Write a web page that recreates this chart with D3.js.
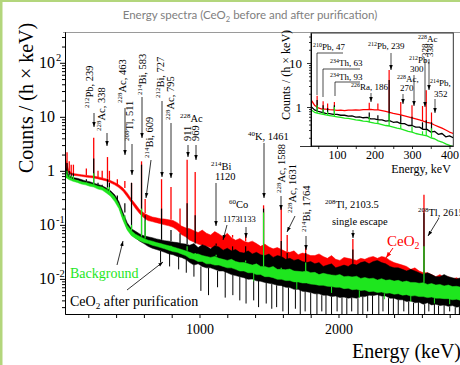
<!DOCTYPE html>
<html>
<head>
<meta charset="utf-8">
<script src="https://cdn.jsdelivr.net/npm/d3@7"></script>
<style>
  html, body { margin: 0; padding: 0; background: #fff; }
  svg { display: block; }
</style>
</head>
<body>
<div id="chart"></div>
<script>
// ---- main spectrum (keV bins, counts / (h x keV)), lower/upper edge of each noisy band ----
const energy = [
  30, 60, 90, 120, 150, 180, 210, 240, 270, 300,
  330, 360, 390, 420, 450, 480, 510, 540, 570, 600,
  630, 660, 690, 720, 750, 780, 810, 840, 870, 900,
  930, 960, 990, 1020, 1050, 1080, 1110, 1140, 1170, 1200,
  1230, 1260, 1290, 1320, 1350, 1380, 1410, 1440, 1470, 1500,
  1530, 1560, 1590, 1620, 1650, 1680, 1710, 1740, 1770, 1800,
  1830, 1860, 1890, 1920, 1950, 1980, 2010, 2040, 2070, 2100,
  2130, 2160, 2190, 2220, 2250, 2280, 2310, 2340, 2370, 2400,
  2430, 2460, 2490, 2520, 2550, 2580, 2610, 2640, 2670, 2700,
  2730, 2760, 2790, 2820, 2850, 2880
];
const beforeHi = [
  1.9, 1.0, 0.89, 0.87, 0.85, 0.83, 0.81, 0.8, 0.77, 0.74,
  0.71, 0.66, 0.61, 0.55, 0.48, 0.39, 0.3, 0.24, 0.19, 0.165,
  0.15, 0.14, 0.135, 0.13, 0.128, 0.124, 0.12, 0.11, 0.095, 0.088,
  0.085, 0.078, 0.072, 0.08, 0.07, 0.065, 0.075, 0.068, 0.06, 0.07,
  0.058, 0.052, 0.056, 0.05, 0.047, 0.05, 0.045, 0.04, 0.044, 0.039,
  0.036, 0.038, 0.035, 0.032, 0.031, 0.033, 0.028, 0.03, 0.029, 0.027,
  0.027, 0.029, 0.026, 0.024, 0.027, 0.023, 0.022, 0.025, 0.024, 0.023,
  0.022, 0.024, 0.023, 0.025, 0.026, 0.024, 0.026, 0.025, 0.022, 0.02,
  0.019, 0.018, 0.017, 0.015, 0.016, 0.014, 0.013, 0.013, 0.012, 0.011,
  0.012, 0.0105, 0.011, 0.01, 0.0105, 0.0095
];
const beforeLo = [
  1.2, 0.9, 0.83, 0.81, 0.79, 0.77, 0.75, 0.74, 0.71, 0.68,
  0.65, 0.6, 0.55, 0.49, 0.42, 0.33, 0.26, 0.2, 0.16, 0.135,
  0.12, 0.115, 0.11, 0.105, 0.1, 0.096, 0.09, 0.08, 0.066, 0.06,
  0.052, 0.048, 0.044, 0.042, 0.04, 0.038, 0.036, 0.034, 0.034, 0.032,
  0.03, 0.029, 0.028, 0.027, 0.026, 0.025, 0.024, 0.023, 0.023, 0.022,
  0.02, 0.02, 0.019, 0.018, 0.017, 0.017, 0.016, 0.016, 0.015, 0.015,
  0.014, 0.014, 0.013, 0.013, 0.012, 0.012, 0.012, 0.012, 0.012, 0.012,
  0.012, 0.013, 0.013, 0.014, 0.014, 0.014, 0.014, 0.013, 0.012, 0.011,
  0.01, 0.0095, 0.009, 0.0085, 0.0085, 0.008, 0.0075, 0.0072, 0.007, 0.0068,
  0.0065, 0.0063, 0.0062, 0.006, 0.006, 0.0058
];
const afterHi = [
  1.3, 0.81, 0.75, 0.73, 0.69, 0.65, 0.63, 0.59, 0.56, 0.53,
  0.48, 0.43, 0.36, 0.27, 0.17, 0.11, 0.085, 0.076, 0.068, 0.063,
  0.06, 0.058, 0.055, 0.053, 0.051, 0.05, 0.048, 0.047, 0.045, 0.044,
  0.042, 0.045, 0.038, 0.043, 0.04, 0.036, 0.041, 0.039, 0.034, 0.037,
  0.033, 0.035, 0.031, 0.03, 0.033, 0.029, 0.031, 0.028, 0.027, 0.029,
  0.025, 0.027, 0.026, 0.023, 0.024, 0.022, 0.023, 0.021, 0.02, 0.021,
  0.019, 0.02, 0.017, 0.018, 0.019, 0.016, 0.017, 0.018, 0.017, 0.019,
  0.018, 0.02, 0.021, 0.019, 0.021, 0.022, 0.02, 0.019, 0.017, 0.016,
  0.016, 0.015, 0.014, 0.015, 0.014, 0.013, 0.012, 0.013, 0.012, 0.011,
  0.011, 0.012, 0.011, 0.0105, 0.01, 0.0105
];
const afterLo = [
  0.8, 0.75, 0.69, 0.67, 0.63, 0.59, 0.57, 0.53, 0.5, 0.47,
  0.42, 0.37, 0.3, 0.22, 0.13, 0.085, 0.066, 0.057, 0.05, 0.045,
  0.04, 0.037, 0.035, 0.033, 0.031, 0.029, 0.028, 0.026, 0.025, 0.023,
  0.02, 0.018, 0.019, 0.017, 0.016, 0.016, 0.015, 0.014, 0.014, 0.013,
  0.012, 0.0115, 0.011, 0.0105, 0.0098, 0.0099, 0.0092, 0.009, 0.0086, 0.0083,
  0.008, 0.0076, 0.0075, 0.007, 0.0069, 0.0064, 0.0064, 0.0059, 0.0058, 0.0056,
  0.0053, 0.0053, 0.005, 0.005, 0.0047, 0.0048, 0.0045, 0.0046, 0.0044, 0.0045,
  0.0044, 0.0047, 0.0047, 0.005, 0.0049, 0.0051, 0.0048, 0.0048, 0.0044, 0.0044,
  0.0041, 0.0041, 0.0038, 0.0039, 0.0036, 0.0037, 0.0034, 0.0036, 0.0033, 0.0034,
  0.0032, 0.0033, 0.0031, 0.0032, 0.003, 0.0031
];
const bgHi = [
  0.95, 0.75, 0.7, 0.67, 0.63, 0.61, 0.58, 0.56, 0.52, 0.5,
  0.45, 0.4, 0.33, 0.24, 0.15, 0.098, 0.078, 0.067, 0.061, 0.056,
  0.052, 0.05, 0.047, 0.045, 0.043, 0.041, 0.039, 0.037, 0.035, 0.033,
  0.031, 0.029, 0.029, 0.027, 0.026, 0.025, 0.026, 0.024, 0.023, 0.022,
  0.023, 0.021, 0.02, 0.02, 0.019, 0.018, 0.019, 0.017, 0.017, 0.016,
  0.017, 0.015, 0.015, 0.0148, 0.0152, 0.014, 0.0138, 0.0135, 0.014, 0.013,
  0.0132, 0.012, 0.0127, 0.0122, 0.0118, 0.0116, 0.012, 0.011, 0.0112, 0.0108,
  0.0112, 0.0102, 0.0106, 0.0101, 0.0103, 0.0095, 0.0101, 0.0094, 0.0096, 0.0091,
  0.0094, 0.0088, 0.0091, 0.0086, 0.0086, 0.0083, 0.0085, 0.0079, 0.0082, 0.0077,
  0.0079, 0.0074, 0.0077, 0.0072, 0.0073, 0.007
];
const bgLo = [
  0.78, 0.69, 0.64, 0.61, 0.57, 0.55, 0.52, 0.5, 0.46, 0.44,
  0.39, 0.34, 0.27, 0.2, 0.12, 0.08, 0.063, 0.056, 0.051, 0.047,
  0.045, 0.042, 0.04, 0.038, 0.036, 0.034, 0.032, 0.031, 0.029, 0.027,
  0.024, 0.023, 0.021, 0.021, 0.019, 0.019, 0.018, 0.018, 0.017, 0.016,
  0.016, 0.015, 0.014, 0.014, 0.013, 0.013, 0.012, 0.012, 0.011, 0.011,
  0.0105, 0.0098, 0.0098, 0.0093, 0.0093, 0.0088, 0.0088, 0.0084, 0.0084, 0.008,
  0.0079, 0.0076, 0.0076, 0.0073, 0.0072, 0.007, 0.007, 0.0066, 0.0067, 0.0063,
  0.0064, 0.0061, 0.0062, 0.0058, 0.0059, 0.0056, 0.0057, 0.0054, 0.0055, 0.0052,
  0.0053, 0.005, 0.0051, 0.0048, 0.0049, 0.0047, 0.0047, 0.0045, 0.0046, 0.0044,
  0.0044, 0.0043, 0.0043, 0.0041, 0.0042, 0.004
];

// gamma lines (keV) and peak tops for each spectrum
const peakEnergy = [47, 63, 77, 93, 186, 239, 270, 300, 338, 352, 409, 463, 511, 583, 609, 727, 795, 860, 911, 969, 1120, 1238, 1332, 1461, 1588, 1631, 1764, 2103.5, 2615];
const peakBefore = [2.2, 1.5, 1.3, 1.3, 1.1, 4.1, 1.0, 1.0, 1.8, 1.0, 0.7, 0.65, 0.6, 1.5, 0.3, 0.7, 0.5, 0.2, 1.6, 0.95, 0.075, 0.065, 0.07, 0.23, 0.21, 0.065, 0.038, 0.055, 0.36];
const peakAfter = [1.4, 1.0, 0.9, 0.9, 0.7, 1.7, 0.6, 0.55, 0.7, 0.6, 0.35, 0.25, 0.6, 1.3, 0.15, 0.2, 0.08, 0.07, 0.25, 0.15, 0.045, 0.04, 0.04, 0.2, 0.05, 0.03, 0.03, 0.035, 0.17];
const peakBg = [1.0, 0.85, 0.8, 0.8, 0.62, 0.9, 0.5, 0.48, 0.5, 0.5, 0.25, 0.12, 0.1, 0.2, 0.12, 0.045, 0.035, 0.03, 0.04, 0.03, 0.028, 0.023, 0.022, 0.17, 0.016, 0.014, 0.02, 0.011, 0.04];

// downward noise dips (keV, counts) of the purified sample and of the background
const afterDipEnergy = [720, 785, 850, 905, 960, 1010, 1065, 1130, 1185, 1240, 1290, 1335, 1390, 1425, 1480, 1520, 1555, 1600, 1640, 1690, 1725, 1760, 1800, 1845, 1880, 1910, 1950, 1990, 2025, 2060, 2095, 2140, 2175, 2210, 2245, 2290, 2320, 2360, 2395, 2430, 2470, 2505, 2540, 2575, 2620, 2650, 2690, 2720, 2760, 2800, 2840, 2870];
const afterDipValue = [0.02, 0.017, 0.015, 0.013, 0.011, 0.006, 0.005, 0.007, 0.0045, 0.005, 0.004, 0.0035, 0.004, 0.003, 0.0035, 0.0028, 0.003, 0.0025, 0.002, 0.0028, 0.002, 0.0025, 0.002, 0.002, 0.0025, 0.002, 0.002, 0.0025, 0.002, 0.002, 0.0025, 0.002, 0.002, 0.0025, 0.002, 0.002, 0.0025, 0.002, 0.002, 0.002, 0.0025, 0.002, 0.002, 0.002, 0.002, 0.0025, 0.002, 0.002, 0.002, 0.0025, 0.002, 0.002];
const bgDipEnergy = [1390, 1700, 1950, 2150, 2330, 2520, 2690, 2800];
const bgDipValue = [0.009, 0.0065, 0.0055, 0.0045, 0.0042, 0.0038, 0.0035, 0.0034];

// ---- inset: low-energy part ----
const insetEnergy = [30, 40, 50, 60, 70, 80, 90, 100, 110, 120, 130, 140, 150, 160, 170, 180, 190, 200, 210, 220, 230, 240, 250, 260, 270, 280, 290, 300, 310, 320, 330, 340, 350, 360, 370, 380, 390, 400, 410];
const insetBefore = [1.5, 1.1, 0.95, 0.9, 0.9, 0.87, 0.86, 0.84, 0.85, 0.83, 0.85, 0.85, 0.86, 0.85, 0.87, 0.87, 0.88, 0.86, 0.86, 0.83, 0.8, 0.76, 0.72, 0.69, 0.66, 0.63, 0.6, 0.57, 0.54, 0.51, 0.48, 0.45, 0.43, 0.39, 0.36, 0.33, 0.3, 0.27, 0.25];
const insetAfter = [1.05, 0.86, 0.8, 0.76, 0.72, 0.71, 0.68, 0.68, 0.65, 0.65, 0.62, 0.63, 0.59, 0.6, 0.57, 0.58, 0.54, 0.54, 0.51, 0.51, 0.48, 0.49, 0.45, 0.46, 0.42, 0.42, 0.38, 0.38, 0.35, 0.35, 0.31, 0.31, 0.27, 0.28, 0.24, 0.25, 0.21, 0.22, 0.2];
const insetBg = [0.88, 0.76, 0.72, 0.69, 0.66, 0.64, 0.62, 0.6, 0.58, 0.56, 0.55, 0.53, 0.51, 0.5, 0.48, 0.47, 0.45, 0.43, 0.42, 0.4, 0.38, 0.37, 0.35, 0.33, 0.32, 0.3, 0.28, 0.27, 0.25, 0.24, 0.23, 0.22, 0.2, 0.19, 0.17, 0.16, 0.145, 0.135, 0.125];
const insetPeakEnergy = [47, 63, 75, 93, 186, 209, 239, 270, 300, 328, 338, 352];
const insetPeakBefore = [1.8, 1.35, 1.2, 1.3, 1.25, 1.2, 6.9, 1.3, 1.1, 1.05, 2.4, 0.75];
const insetPeakAfter = [1.45, 1.1, 0.95, 1.1, 0.75, 0.65, 4.1, 0.65, 0.6, 0.45, 0.5, 0.45];
const insetPeakBg = [1.1, 0.9, 0.78, 1.0, 0.6, 0.5, 0.7, 0.4, 0.36, 0.28, 0.3, 0.33];

const yTickValues = [100, 10, 1, 0.1, 0.01];
const yTickBase = ["10", "10", "1", "10", "10"];
const yTickSup = ["2", "", "", "-1", "-2"];

const W = 460, H = 365;
const serif = "'Liberation Serif','Times New Roman',serif";
const RED = "#ff0000", BLACK = "#000000", GREEN = "#1ee61e";

const svg = d3.select("#chart").append("svg").attr("width", W).attr("height", H);
const defs = svg.append("defs");

defs.append("marker")
  .attr("id", "ah").attr("viewBox", "0 0 10 10").attr("refX", 10).attr("refY", 5)
  .attr("markerUnits", "userSpaceOnUse").attr("markerWidth", 5).attr("markerHeight", 5)
  .attr("orient", "auto")
  .append("path").attr("d", "M0,1.5L10,5L0,8.5Z").attr("fill", "#000");
defs.append("marker")
  .attr("id", "ahRed").attr("viewBox", "0 0 10 10").attr("refX", 10).attr("refY", 5)
  .attr("markerUnits", "userSpaceOnUse").attr("markerWidth", 6).attr("markerHeight", 6)
  .attr("orient", "auto")
  .append("path").attr("d", "M0,1.5L10,5L0,8.5Z").attr("fill", RED);

// text with ^{sup} and _{sub} pieces
function rich(g, spec, family, baseSize) {
  const size = spec.s || baseSize;
  const t = g.append("text").attr("x", spec.x).attr("y", spec.y)
    .attr("font-family", family).attr("font-size", size).attr("fill", spec.c || "#000");
  if (spec.anchor) t.attr("text-anchor", spec.anchor);
  if (spec.r) t.attr("transform", `rotate(-90,${spec.x},${spec.y})`);
  let shift = 0;
  spec.t.split(/(\^\{[^}]*\}|_\{[^}]*\})/).filter(s => s.length).forEach(seg => {
    let off = 0, fs = size, txt = seg;
    if (seg[0] === "^") { off = -0.38 * size; fs = 0.66 * size; txt = seg.slice(2, -1); }
    else if (seg[0] === "_") { off = 0.22 * size; fs = 0.66 * size; txt = seg.slice(2, -1); }
    t.append("tspan").attr("dy", off - shift).attr("font-size", fs).text(txt);
    shift = off;
  });
  return t;
}

function band(g, xs, ys, lo, hi, color) {
  const rows = energy.map((e, i) => ({ e, lo: lo[i], hi: hi[i] }));
  g.append("path").datum(rows)
    .attr("d", d3.area().x(d => xs(d.e)).y0(d => ys(d.lo)).y1(d => ys(d.hi)))
    .attr("fill", color).attr("stroke", color).attr("stroke-width", 0.5)
    .attr("stroke-linejoin", "round");
}

// vertical strokes from a band edge (nearest bin) to given values: peaks up, dips down
function spikes(g, xs, ys, grid, base, pe, pv, color, w) {
  pe.forEach((e, i) => {
    let k = 0;
    grid.forEach((ge, j) => { if (Math.abs(ge - e) < Math.abs(grid[k] - e)) k = j; });
    g.append("line").attr("x1", xs(e)).attr("x2", xs(e))
      .attr("y1", ys(pv[i])).attr("y2", ys(base[k]))
      .attr("stroke", color).attr("stroke-width", w);
  });
}

// page frame
svg.append("rect").attr("x", 0).attr("y", 0).attr("width", 2.5).attr("height", H).attr("fill", "#b3d67c");
svg.append("rect").attr("x", 0).attr("y", 0).attr("width", W).attr("height", 2).attr("fill", "#b3d67c");

rich(svg, { t: "Energy spectra (CeO_{2} before and after purification)", x: 250, y: 19, anchor: "middle", c: "#808080" },
  "Lato, 'DejaVu Sans', sans-serif", 11.5);

// ---- main plot ----
const x = d3.scaleLinear().domain([32.4, 2880]).range([65, 460.8]);
const y = d3.scaleLog().domain([Math.pow(10, -2.65), Math.pow(10, 2.57)]).range([314, 32]);

defs.append("clipPath").attr("id", "clipMain")
  .append("rect").attr("x", 65).attr("y", 32).attr("width", 400).attr("height", 282);

svg.append("line").attr("x1", 63).attr("x2", W).attr("y1", 32.5).attr("y2", 32.5)
  .attr("stroke", "#9a9a9a").attr("stroke-width", 1);

const plot = svg.append("g").attr("clip-path", "url(#clipMain)");
band(plot, x, y, beforeLo, beforeHi, RED);
spikes(plot, x, y, energy, beforeHi, peakEnergy, peakBefore.map((v, i) => v), RED, 1.3);
band(plot, x, y, afterLo, afterHi, BLACK);
spikes(plot, x, y, energy, afterLo, afterDipEnergy, afterDipValue, BLACK, 1);
spikes(plot, x, y, energy, afterHi, peakEnergy, peakAfter, BLACK, 1.2);
band(plot, x, y, bgLo, bgHi, GREEN);
spikes(plot, x, y, energy, bgLo, bgDipEnergy, bgDipValue, GREEN, 1);
spikes(plot, x, y, energy, bgHi, peakEnergy, peakBg, GREEN, 1.2);

// axes
const minorY = [];
[-3, -2, -1, 0, 1, 2].forEach(p => { for (let m = 2; m <= 9; m++) minorY.push(m * Math.pow(10, p)); });
const yDom = y.domain();
const styleAxis = g => { g.selectAll("path,line").attr("stroke", "#000").attr("stroke-width", 1); };

svg.append("g").attr("transform", "translate(65,0)")
  .call(d3.axisLeft(y).tickValues(minorY.filter(v => v > yDom[0] && v < yDom[1])).tickSize(3).tickSizeOuter(0).tickFormat(""))
  .call(styleAxis);
svg.append("g").attr("transform", "translate(65,0)")
  .call(d3.axisLeft(y).tickValues(yTickValues).tickSize(5).tickSizeOuter(0).tickFormat(""))
  .call(styleAxis);

yTickValues.forEach((v, i) => {
  svg.append("text").attr("x", 55).attr("y", y(v) + 5.5).attr("text-anchor", "end")
    .attr("font-family", serif).attr("font-size", 16).text(yTickBase[i]);
  if (yTickSup[i]) {
    svg.append("text").attr("x", 56).attr("y", y(v) - 2)
      .attr("font-family", serif).attr("font-size", 10.5).text(yTickSup[i]);
  }
});

const xAxis = svg.append("g").attr("transform", "translate(0,314)")
  .call(d3.axisBottom(x).tickValues(d3.range(200, 2801, 200)).tickSize(4).tickSizeOuter(0).tickPadding(6)
    .tickFormat(d => (d % 1000 === 0 ? d : "")))
  .call(styleAxis);
xAxis.selectAll("text").attr("font-family", serif).attr("font-size", 14).attr("fill", "#000");

svg.append("text").attr("transform", "translate(33,173) rotate(-90)")
  .attr("font-family", serif).attr("font-size", 20).text("Counts / (h \u00d7 keV)");
svg.append("text").attr("x", 352).attr("y", 358)
  .attr("font-family", serif).attr("font-size", 20).text("Energy (keV)");

// annotations of the main plot
const mainLabels = [
  { t: "^{212}Pb, 239", x: 93, y: 108, r: true },
  { t: "^{228}Ac, 338", x: 105, y: 131, r: true },
  { t: "^{228}Ac, 463", x: 126, y: 103, r: true },
  { t: "^{208}Tl, 511", x: 133, y: 141, r: true },
  { t: "^{214}Bi, 583", x: 146, y: 95, r: true },
  { t: "^{214}Bi, 609", x: 153, y: 158, r: true },
  { t: "^{212}Bi, 727", x: 164, y: 98, r: true },
  { t: "^{228}Ac, 795", x: 174, y: 120, r: true },
  { t: "^{228}Ac", x: 180, y: 122 },
  { t: "911", x: 191, y: 141, r: true },
  { t: "969", x: 199, y: 141, r: true },
  { t: "^{214}Bi", x: 211, y: 170 },
  { t: "1120", x: 215, y: 180 },
  { t: "^{60}Co", x: 229, y: 208 },
  { t: "1173", x: 223, y: 222, s: 8.5 },
  { t: "1133", x: 239, y: 222, s: 8.5 },
  { t: "^{40}K, 1461", x: 248, y: 140 },
  { t: "^{228}Ac, 1588", x: 285, y: 193, r: true },
  { t: "^{228}Ac, 1631", x: 296, y: 213, r: true },
  { t: "^{214}Bi, 1764", x: 310, y: 232, r: true },
  { t: "^{208}Tl, 2103.5", x: 325, y: 208 },
  { t: "single escape", x: 332, y: 225 },
  { t: "CeO_{2}", x: 387, y: 246, s: 15, c: RED },
  { t: "^{208}Tl, 2615", x: 418, y: 216 },
  { t: "Background", x: 70, y: 278, s: 14, c: GREEN },
  { t: "CeO_{2} after purification", x: 70, y: 306, s: 14 }
];
mainLabels.forEach(l => rich(svg, l, serif, 10.5));

const mainArrows = [
  [94, 113, 94, 127], [107, 133, 107, 146], [125, 108, 125, 155], [132, 144, 132, 175],
  [142, 97, 142, 138], [151, 160, 146, 198], [162, 101, 162, 177], [171, 123, 171, 178],
  [188, 145, 188, 157], [196, 145, 196, 160], [216, 183, 216, 226], [227, 225, 223, 240],
  [246, 227, 246, 238], [264, 143, 264, 198], [281, 196, 281, 210], [295, 216, 287, 232],
  [306, 236, 306, 250], [353, 230, 353, 238], [439, 218, 428, 236],
  [117, 265, 123, 241], [127, 290, 163, 262]
];
mainArrows.forEach(a => {
  svg.append("line").attr("x1", a[0]).attr("y1", a[1]).attr("x2", a[2]).attr("y2", a[3])
    .attr("stroke", "#000").attr("stroke-width", 0.8).attr("marker-end", "url(#ah)");
});
svg.append("line").attr("x1", 393).attr("y1", 248).attr("x2", 386).attr("y2", 258)
  .attr("stroke", RED).attr("stroke-width", 1).attr("marker-end", "url(#ahRed)");

// ---- inset ----
const xi = d3.scaleLinear().domain([0, 410]).range([299.5, 453.25]);
const yi = d3.scaleLog().domain([Math.pow(10, -0.886), Math.pow(10, 1.682)]).range([146, 33]);

defs.append("clipPath").attr("id", "clipInset")
  .append("rect").attr("x", 311).attr("y", 33).attr("width", 142.25).attr("height", 113);

const inset = svg.append("g").attr("clip-path", "url(#clipInset)");
const iLine = vals => d3.line().x((e, i) => xi(e)).y((e, i) => yi(vals[i]))(insetEnergy);
[[insetBefore, insetPeakBefore, RED], [insetAfter, insetPeakAfter, BLACK], [insetBg, insetPeakBg, GREEN]].forEach(s => {
  inset.append("path").attr("d", iLine(s[0])).attr("fill", "none")
    .attr("stroke", s[2]).attr("stroke-width", 1.3).attr("stroke-linejoin", "round");
  spikes(inset, xi, yi, insetEnergy, s[0], insetPeakEnergy, s[1], s[2], 1.2);
});

svg.append("rect").attr("x", 311).attr("y", 33).attr("width", 142.25).attr("height", 113)
  .attr("fill", "none").attr("stroke", "#000").attr("stroke-width", 0.8);

const minorYi = [];
[-1, 0, 1].forEach(p => { for (let m = 2; m <= 9; m++) minorYi.push(m * Math.pow(10, p)); });
const yiDom = yi.domain();
svg.append("g").attr("transform", "translate(311,0)")
  .call(d3.axisLeft(yi).tickValues(minorYi.filter(v => v > yiDom[0] && v < yiDom[1])).tickSize(2).tickSizeOuter(0).tickFormat(""))
  .call(g => g.selectAll("path,line").attr("stroke", "#000").attr("stroke-width", 0.8));
const yiAxis = svg.append("g").attr("transform", "translate(311,0)")
  .call(d3.axisLeft(yi).tickValues([1, 10]).tickSize(4).tickPadding(5).tickSizeOuter(0).tickFormat(d => d))
  .call(g => g.selectAll("path,line").attr("stroke", "#000").attr("stroke-width", 0.8));
yiAxis.selectAll("text").attr("font-family", serif).attr("font-size", 13).attr("fill", "#000");

const xiAxis = svg.append("g").attr("transform", "translate(0,146)")
  .call(d3.axisBottom(xi).tickValues(d3.range(50, 401, 50)).tickSize(3).tickPadding(1).tickSizeOuter(0)
    .tickFormat(d => (d % 100 === 0 ? d : "")))
  .call(g => g.selectAll("path,line").attr("stroke", "#000").attr("stroke-width", 0.8));
xiAxis.selectAll("text").attr("font-family", serif).attr("font-size", 12).attr("fill", "#000");

svg.append("text").attr("transform", "translate(290,120) rotate(-90)")
  .attr("font-family", serif).attr("font-size", 12).text("Counts / (h \u00d7 keV)");
svg.append("text").attr("x", 421).attr("y", 173).attr("text-anchor", "middle")
  .attr("font-family", serif).attr("font-size", 12).text("Energy, keV");

const insetLabels = [
  { t: "^{210}Pb, 47", x: 313, y: 50 },
  { t: "^{234}Th, 63", x: 330, y: 66 },
  { t: "^{234}Th, 93", x: 330, y: 80 },
  { t: "^{226}Ra, 186", x: 351, y: 90 },
  { t: "^{212}Pb, 239", x: 368, y: 49 },
  { t: "^{228}Ac,", x: 397, y: 82 },
  { t: "270", x: 400, y: 91 },
  { t: "^{212}Pb,", x: 409, y: 63 },
  { t: "300", x: 410, y: 72 },
  { t: "^{228}Ac", x: 418, y: 42 },
  { t: "328", x: 428, y: 57, r: true },
  { t: "338", x: 433, y: 57, r: true },
  { t: "^{214}Pb,", x: 430, y: 86 },
  { t: "352", x: 434, y: 97 }
];
insetLabels.forEach(l => rich(svg, l, serif, 9));

const insetBrackets = ["M343,53H317V95", "M360,69H323V97", "M360,82H335V96"];
insetBrackets.forEach(d => svg.append("path").attr("d", d).attr("fill", "none")
  .attr("stroke", "#000").attr("stroke-width", 0.7));
const insetArrows = [
  [371, 93, 371, 102], [391, 53, 391, 70], [403, 94, 403, 104], [414, 75, 414, 106],
  [425, 59, 425, 107], [429, 59, 429, 90], [435, 99, 435, 113]
];
insetArrows.forEach(a => {
  svg.append("line").attr("x1", a[0]).attr("y1", a[1]).attr("x2", a[2]).attr("y2", a[3])
    .attr("stroke", "#000").attr("stroke-width", 0.7).attr("marker-end", "url(#ah)");
});
</script>
</body>
</html>
